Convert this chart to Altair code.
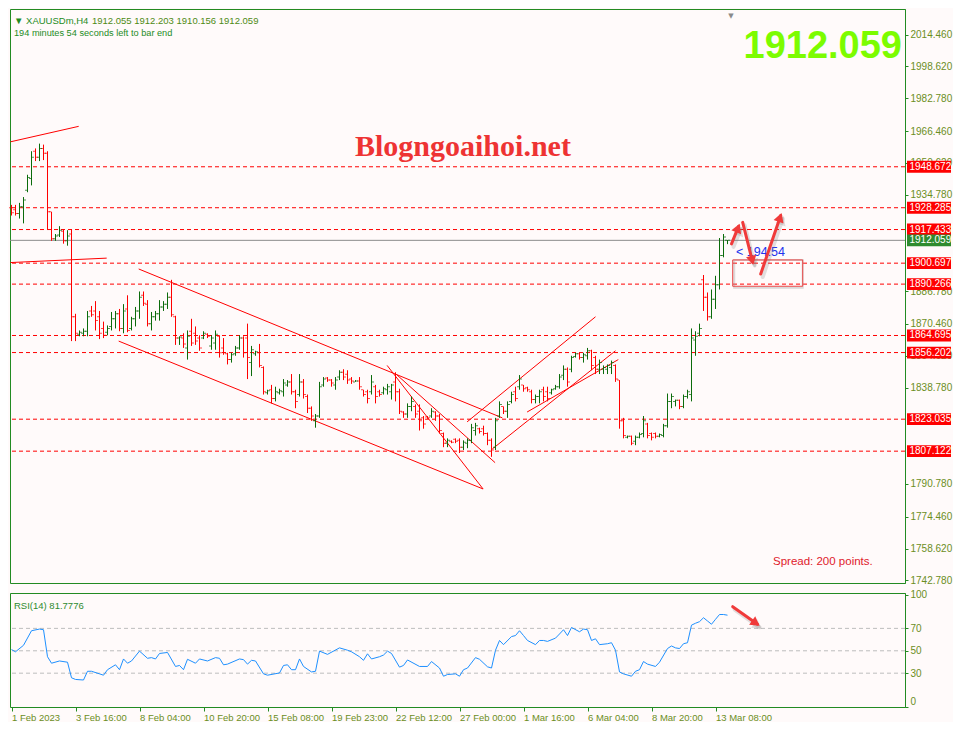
import json, math
import numpy as np
import pandas as pd
import altair as alt

# ---------------- data ----------------
opens = [1928.3, 1927.3, 1925.4, 1928.8, 1937.0, 1942.8, 1956.4, 1953.4, 1957.8, 1955.4,
         1926.3, 1912.8, 1914.7, 1916.6, 1911.8, 1915.2, 1874.0, 1865.3, 1865.8, 1866.8,
         1876.9, 1876.9, 1874.0, 1868.2, 1866.3, 1869.2, 1873.0, 1875.5, 1868.2, 1877.9,
         1868.2, 1873.0, 1876.9, 1884.7, 1880.3, 1870.6, 1874.0, 1875.5, 1878.9, 1880.3,
         1883.7, 1874.0, 1863.4, 1863.4, 1858.5, 1866.8, 1865.8, 1863.4, 1863.4, 1865.3,
         1859.5, 1861.0, 1864.3, 1858.5, 1855.6, 1852.7, 1855.6, 1858.5, 1863.4, 1863.4,
         1851.2, 1855.6, 1856.1, 1848.8, 1836.2, 1837.7, 1833.3, 1836.2, 1836.7, 1840.1,
         1841.6, 1836.7, 1835.3, 1841.6, 1834.3, 1828.5, 1822.2, 1824.6, 1840.1, 1843.5,
         1842.5, 1840.1, 1844.0, 1846.4, 1845.4, 1843.0, 1841.6, 1842.0, 1837.7, 1836.7,
         1836.7, 1839.2, 1836.7, 1836.2, 1837.7, 1836.7, 1841.6, 1836.7, 1826.6, 1825.6,
         1829.4, 1829.4, 1827.0, 1823.7, 1824.1, 1824.6, 1826.6, 1824.6, 1815.9, 1811.1,
         1812.0, 1813.0, 1812.5, 1809.1, 1811.1, 1812.5, 1817.4, 1818.3, 1818.3, 1815.9,
         1812.5, 1809.1, 1824.6, 1829.4, 1827.0, 1831.9, 1836.7, 1839.2, 1840.1, 1838.7,
         1836.7, 1832.8, 1834.3, 1837.7, 1836.7, 1836.2, 1838.2, 1839.2, 1844.9, 1847.9,
         1847.9, 1854.2, 1855.6, 1853.7, 1854.6, 1857.1, 1853.7, 1847.9, 1847.9, 1847.9,
         1848.8, 1849.8, 1842.5, 1822.2, 1814.0, 1814.5, 1812.0, 1814.0, 1815.9, 1820.7,
         1815.9, 1815.9, 1814.5, 1814.9, 1819.8, 1831.9, 1831.9, 1832.4, 1829.4, 1834.3,
         1835.3, 1862.4, 1865.8, 1892.4, 1883.7, 1874.0, 1882.7, 1890.0, 1904.5, 1912.055]
highs = [1929.7, 1929.7, 1930.7, 1933.6, 1944.7, 1956.4, 1957.8, 1960.2, 1959.7, 1956.4,
         1926.3, 1915.2, 1919.1, 1917.6, 1917.1, 1917.6, 1875.5, 1867.2, 1868.2, 1876.9,
         1879.4, 1881.8, 1876.9, 1871.6, 1869.7, 1876.4, 1876.9, 1877.9, 1880.3, 1884.7,
         1874.0, 1878.9, 1886.6, 1886.6, 1882.3, 1876.4, 1876.9, 1882.3, 1881.8, 1886.1,
         1892.4, 1874.5, 1864.3, 1865.8, 1867.2, 1873.0, 1869.2, 1864.8, 1866.8, 1865.8,
         1864.8, 1867.2, 1864.8, 1863.4, 1856.1, 1856.1, 1859.5, 1864.8, 1864.3, 1870.6,
         1859.5, 1857.1, 1860.5, 1849.3, 1837.7, 1840.1, 1839.2, 1838.2, 1843.0, 1842.5,
         1845.5, 1837.7, 1845.5, 1843.0, 1835.3, 1829.4, 1825.6, 1841.6, 1844.0, 1844.0,
         1843.0, 1844.0, 1847.4, 1847.9, 1847.4, 1844.0, 1842.5, 1844.0, 1837.7, 1837.7,
         1845.0, 1840.1, 1837.7, 1839.2, 1840.6, 1840.6, 1846.4, 1838.2, 1827.0, 1830.9,
         1834.3, 1830.4, 1830.4, 1824.6, 1824.6, 1828.5, 1827.0, 1825.6, 1816.4, 1813.5,
         1812.5, 1813.5, 1813.5, 1812.5, 1813.5, 1820.7, 1821.2, 1818.8, 1819.8, 1816.4,
         1813.5, 1823.7, 1831.9, 1829.4, 1831.9, 1836.7, 1839.2, 1845.0, 1840.1, 1839.2,
         1837.7, 1835.3, 1837.7, 1839.2, 1839.2, 1838.2, 1840.1, 1845.5, 1849.8, 1848.8,
         1854.6, 1856.1, 1856.1, 1856.1, 1858.5, 1857.6, 1854.6, 1852.7, 1849.8, 1850.3,
         1852.2, 1850.3, 1842.5, 1823.7, 1814.9, 1814.9, 1814.9, 1816.4, 1824.6, 1821.2,
         1816.4, 1816.4, 1815.9, 1820.7, 1835.8, 1835.8, 1832.8, 1832.8, 1835.3, 1837.7,
         1868.2, 1866.8, 1870.6, 1894.8, 1886.1, 1887.6, 1894.4, 1913.2, 1915.2, 1912.203]
lows = [1924.4, 1924.4, 1922.9, 1920.5, 1936.0, 1939.4, 1951.5, 1951.5, 1952.0, 1917.6,
        1911.8, 1911.8, 1913.7, 1910.4, 1909.4, 1861.9, 1861.9, 1864.3, 1864.3, 1864.3,
        1874.0, 1867.2, 1862.9, 1863.4, 1864.8, 1867.2, 1868.2, 1866.8, 1865.8, 1866.3,
        1867.2, 1869.2, 1873.0, 1879.4, 1869.2, 1867.2, 1872.1, 1872.1, 1876.9, 1877.9,
        1874.0, 1860.0, 1860.0, 1858.5, 1852.7, 1859.5, 1860.0, 1857.1, 1862.9, 1863.4,
        1857.6, 1857.6, 1853.7, 1855.1, 1850.3, 1851.2, 1854.6, 1857.6, 1853.7, 1843.0,
        1844.5, 1854.6, 1848.8, 1835.3, 1835.3, 1830.9, 1831.9, 1835.3, 1834.3, 1839.2,
        1835.3, 1828.5, 1834.3, 1833.3, 1826.1, 1822.2, 1818.8, 1823.7, 1839.2, 1841.6,
        1839.2, 1837.7, 1842.5, 1842.5, 1840.6, 1840.6, 1841.6, 1837.7, 1834.3, 1830.9,
        1835.3, 1830.9, 1834.3, 1835.3, 1835.3, 1832.8, 1831.9, 1825.6, 1823.7, 1823.7,
        1827.0, 1823.7, 1817.4, 1818.3, 1823.2, 1823.7, 1822.2, 1815.9, 1809.1, 1809.1,
        1811.1, 1811.1, 1806.2, 1807.7, 1808.6, 1811.1, 1814.9, 1815.9, 1814.9, 1810.1,
        1804.3, 1807.7, 1823.7, 1825.6, 1823.7, 1830.9, 1831.9, 1837.7, 1836.7, 1836.7,
        1830.9, 1830.9, 1830.9, 1831.9, 1831.9, 1835.3, 1837.7, 1838.2, 1842.5, 1839.2,
        1846.4, 1853.7, 1852.7, 1851.2, 1852.7, 1847.4, 1845.5, 1845.5, 1845.5, 1845.5,
        1845.5, 1841.6, 1818.3, 1813.5, 1813.5, 1810.1, 1810.1, 1813.5, 1814.0, 1813.5,
        1812.5, 1813.5, 1814.0, 1814.0, 1818.8, 1828.5, 1829.4, 1828.0, 1828.5, 1833.3,
        1831.9, 1854.6, 1864.3, 1876.9, 1872.1, 1873.0, 1877.9, 1887.6, 1903.6, 1910.156]
closes = [1925.8, 1925.4, 1928.8, 1932.1, 1943.3, 1953.4, 1953.4, 1957.8, 1955.4, 1926.3,
          1912.8, 1914.2, 1917.1, 1911.8, 1914.2, 1874.0, 1865.8, 1866.3, 1866.8, 1874.0,
          1875.0, 1872.1, 1865.8, 1864.8, 1868.2, 1873.0, 1875.5, 1868.2, 1876.9, 1867.2,
          1873.0, 1876.9, 1883.7, 1880.8, 1870.6, 1874.0, 1875.5, 1878.9, 1880.3, 1883.7,
          1875.0, 1863.4, 1864.0, 1860.5, 1864.3, 1861.0, 1861.9, 1858.5, 1865.8, 1864.3,
          1863.4, 1865.3, 1856.1, 1856.1, 1852.7, 1855.1, 1858.5, 1863.4, 1856.1, 1853.7,
          1857.6, 1856.6, 1849.8, 1836.7, 1837.2, 1833.3, 1836.7, 1837.2, 1841.1, 1841.6,
          1836.7, 1831.9, 1841.6, 1835.3, 1828.5, 1824.6, 1824.6, 1839.2, 1843.0, 1842.5,
          1841.1, 1842.5, 1846.4, 1844.0, 1842.5, 1842.0, 1842.0, 1839.2, 1835.3, 1833.3,
          1841.6, 1834.3, 1835.3, 1838.2, 1839.2, 1840.1, 1836.7, 1827.0, 1825.6, 1829.4,
          1831.9, 1825.6, 1822.2, 1820.7, 1823.7, 1827.0, 1824.6, 1817.4, 1811.1, 1812.5,
          1811.6, 1812.0, 1809.1, 1811.6, 1812.5, 1818.8, 1819.8, 1816.9, 1815.9, 1812.5,
          1807.7, 1822.2, 1830.4, 1827.0, 1830.4, 1835.3, 1833.3, 1843.0, 1838.2, 1837.7,
          1832.8, 1834.3, 1836.7, 1834.3, 1833.3, 1837.7, 1839.2, 1844.0, 1847.9, 1841.6,
          1853.7, 1855.6, 1853.7, 1855.1, 1857.1, 1849.8, 1847.9, 1851.2, 1848.8, 1849.8,
          1851.2, 1843.0, 1822.2, 1814.9, 1814.5, 1811.1, 1814.0, 1815.4, 1822.2, 1814.9,
          1814.0, 1814.5, 1815.4, 1819.8, 1831.9, 1834.3, 1832.4, 1829.4, 1834.3, 1836.7,
          1863.4, 1864.3, 1868.2, 1883.7, 1874.0, 1882.7, 1890.0, 1904.5, 1913.7, 1912.059]

rsi_i = [0, 1, 3, 5, 7, 8, 9, 10, 12, 14, 15, 16, 18, 19, 20, 22, 23, 24, 26, 27, 28, 29, 30, 32, 34,
         35, 36, 37, 39, 41, 42, 43, 44, 46, 47, 49, 51, 52, 53, 54, 57, 58, 59, 60, 61, 63, 64, 67,
         68, 69, 70, 71, 72, 73, 75, 76, 77, 79, 82, 84, 85, 87, 88, 89, 90, 92, 93, 94, 95, 97, 98,
         99, 102, 104, 105, 107, 108, 109, 111, 112, 113, 114, 116, 117, 119, 120, 121, 122, 123,
         125, 126, 127, 128, 129, 131, 132, 133, 134, 136, 137, 138, 139, 140, 142, 143, 144, 145,
         146, 147, 149, 150, 151, 152, 153, 155, 156, 157, 158, 159, 161, 162, 164, 165, 166, 167,
         168, 169, 170, 171, 172, 173, 174, 175, 176, 177, 178, 179]
rsi_v = [51.1, 49.1, 54.9, 67.9, 69.4, 68.8, 44.7, 38.9, 40.9, 39.8, 25.9, 24.4, 23.9, 31.7, 31.7,
         29.4, 28.2, 33.1, 37.5, 33.1, 42.7, 38.9, 40.9, 49.7, 43.3, 43.9, 42.7, 47.6, 48.5, 36.0,
         36.9, 33.1, 42.4, 38.9, 42.7, 40.9, 43.9, 43.3, 37.5, 38.1, 42.7, 42.1, 38.1, 41.5, 40.9,
         29.4, 28.2, 30.2, 36.9, 37.5, 33.1, 33.1, 42.7, 36.0, 31.1, 31.7, 49.7, 46.8, 52.6, 50.5,
         49.1, 44.7, 41.5, 47.3, 42.7, 44.7, 46.2, 49.7, 47.6, 35.4, 36.9, 41.8, 36.0, 36.0, 40.4,
         34.6, 27.3, 28.8, 29.4, 27.3, 33.1, 34.6, 43.9, 42.4, 35.7, 34.6, 50.5, 59.2, 55.5, 62.7,
         63.6, 67.9, 63.6, 59.2, 55.5, 59.2, 59.2, 58.4, 61.3, 65.0, 68.8, 63.6, 70.8, 67.0, 69.4,
         68.8, 59.2, 60.7, 55.5, 56.3, 57.2, 50.5, 31.1, 29.4, 27.3, 31.7, 33.1, 40.4, 38.1, 36.0,
         39.8, 52.0, 54.3, 52.6, 52.0, 56.3, 57.2, 72.9, 74.6, 76.0, 79.5, 76.6, 73.7, 78.1, 82.4,
         82.4, 81.8]

levels = [1948.672, 1928.285, 1917.433, 1900.697, 1890.266, 1864.695, 1856.202, 1823.035, 1807.122]
current_price = 1912.059

price_ticks = [2014.46, 1998.62, 1982.78, 1966.46, 1950.62, 1934.78, 1886.78,
               1870.46, 1854.62, 1838.78, 1790.78, 1774.46, 1758.62, 1742.78]
time_ticks = [0, 16, 32, 48, 64, 80, 96, 112, 128, 144, 160, 176]
time_labels = ["1 Feb 2023", "3 Feb 16:00", "8 Feb 04:00", "10 Feb 20:00", "15 Feb 08:00",
               "19 Feb 23:00", "22 Feb 12:00", "27 Feb 00:00", "1 Mar 16:00", "6 Mar 04:00",
               "8 Mar 20:00", "13 Mar 08:00"]
rsi_ticks = [0, 30, 50, 70, 100]
rsi_levels = [30, 50, 70]

# trend lines (bar index, price)
tl_x0 = [-0.25, -0.25, 31.8, 26.8, 93.9, 95.9, 113.9, 120.2, 128.9]
tl_p0 = [1961.1, 1901.0, 1897.8, 1861.9, 1849.8, 1845.9, 1821.7, 1808.2, 1826.6]
tl_x1 = [16.8, 23.8, 122.7, 117.9, 117.9, 120.9, 146.0, 151.0, 151.7]
tl_p1 = [1968.8, 1903.2, 1823.7, 1788.3, 1788.3, 1801.4, 1874.0, 1857.1, 1852.7]

# hand-drawn arrows (bar index, price)
ar_x0 = [180.0, 182.8, 187.3]
ar_p0 = [1910.3, 1921.0, 1895.3]
ar_x1 = [181.8, 185.3, 192.3]
ar_p1 = [1919.1, 1901.1, 1924.4]
rsi_ar = [180.3, 89.4, 186.5, 73.7]
box = [180.3, 197.8, 1889.2, 1902.3]

# ---------------- style ----------------
W, HM, HR = 895, 574, 114
XDOM = [-0.375, -0.375 + W / 4.0]          # 4 px per bar
YDOM = [1741.5, 2027.2]
RDOM = [-0.2, 101.6]
UP = "#0B6B0B"; DOWN = "#FF0000"; RED = "#FF0000"; FRAME = "#228B22"
OLIVE = "#6B8E23"; BG = "#FFFAFA"; ARROW = "#F03A3A"; FONT = "Liberation Sans"

pxX = W / (XDOM[1] - XDOM[0])
pxY = HM / (YDOM[1] - YDOM[0])
pxR = HR / (RDOM[1] - RDOM[0])

xs = alt.Scale(domain=XDOM, nice=False, zero=False)
ys = alt.Scale(domain=YDOM, nice=False, zero=False)
rs = alt.Scale(domain=RDOM, nice=False, zero=False)

yaxis = alt.Axis(orient="right", values=price_ticks, format=".3f", title=None, grid=False,
                 labelColor=OLIVE, labelFont=FONT, labelFontSize=10, tickColor=FRAME, tickSize=3,
                 domainColor=FRAME, labelPadding=2, labelOverlap=False, labelFlush=False, labelBound=False)
xaxis = alt.Axis(values=time_ticks,
                 labelExpr=f"{json.dumps(time_labels)}[indexof({json.dumps(time_ticks)}, datum.value)]",
                 labelAlign="left", tickSize=4, tickColor=FRAME, domain=False, labelColor=OLIVE,
                 labelFont=FONT, labelFontSize=9.5, labelPadding=1, grid=False, title=None,
                 labelOverlap=False, labelFlush=False, labelBound=False)
raxis = alt.Axis(orient="right", values=rsi_ticks, title=None, grid=False, labelColor=OLIVE, labelFont=FONT,
                 labelFontSize=10, tickSize=3, tickColor=FRAME, domainColor=FRAME, labelPadding=2,
                 labelFlush=True, format="d", labelOverlap=False)

XM = lambda f: alt.X(f, scale=xs, axis=None)
YM = lambda f: alt.Y(f, scale=ys, axis=yaxis)
XR = lambda f: alt.X(f, scale=xs, axis=xaxis)
YR = lambda f: alt.Y(f, scale=rs, axis=raxis)

bars = pd.DataFrame({"i": list(range(len(closes))), "o": opens, "h": highs, "l": lows, "c": closes})
bars["dir"] = np.where(bars["c"] >= bars["o"], "up", "down")
col = alt.Color("dir:N", scale=alt.Scale(domain=["up", "down"], range=[UP, DOWN]), legend=None)


def txt(t, x, y, **kw):
    return alt.Chart(pd.DataFrame({"t": [t]})).mark_text(**kw).encode(
        x=alt.value(x), y=alt.value(y), text="t:N")


def arrow_layers(x0s, y0s, x1s, y1s, XF, YF, pyu):
    rows, heads = [], []
    for k in range(len(x0s)):
        rows.append({"id": k, "i": x0s[k], "p": y0s[k]})
        rows.append({"id": k, "i": x1s[k], "p": y1s[k]})
        dx = (x1s[k] - x0s[k]) * pxX
        dy = (y1s[k] - y0s[k]) * pyu
        ang = math.degrees(math.atan2(dx, dy)) % 360
        L = math.hypot(dx, dy)
        back = 3.5
        heads.append({"i": x1s[k] - back * dx / L / pxX, "p": y1s[k] - back * dy / L / pyu, "ang": ang})
    rdf, hdf = pd.DataFrame(rows), pd.DataFrame(heads)
    return [
        alt.Chart(rdf).mark_line(color="#777777", strokeWidth=4, opacity=0.22, xOffset=2, yOffset=3,
                                 strokeCap="round").encode(x=XF("i:Q"), y=YF("p:Q"), detail="id:N"),
        alt.Chart(hdf).mark_point(shape="triangle", filled=True, size=110, color="#777777", opacity=0.22,
                                  xOffset=2, yOffset=3).encode(x=XF("i:Q"), y=YF("p:Q"),
                                                                angle=alt.Angle("ang:Q", scale=None)),
        alt.Chart(rdf).mark_line(color=ARROW, strokeWidth=3, strokeCap="round").encode(
            x=XF("i:Q"), y=YF("p:Q"), detail="id:N"),
        alt.Chart(hdf).mark_point(shape="triangle", filled=True, size=110, color=ARROW, opacity=1).encode(
            x=XF("i:Q"), y=YF("p:Q"), angle=alt.Angle("ang:Q", scale=None)),
    ]


layers = []
layers.append(alt.Chart(pd.DataFrame({"p": levels})).mark_rule(color=RED, strokeDash=[4, 3], strokeWidth=1).encode(
    y=YM("p:Q")))
layers.append(alt.Chart(pd.DataFrame({"p": [current_price]})).mark_rule(color="#8C8C8C", strokeWidth=1).encode(
    y=YM("p:Q")))

tl_rows = []
for k in range(len(tl_x0)):
    tl_rows.append({"id": k, "i": tl_x0[k], "p": tl_p0[k]})
    tl_rows.append({"id": k, "i": tl_x1[k], "p": tl_p1[k]})
layers.append(alt.Chart(pd.DataFrame(tl_rows)).mark_line(color=RED, strokeWidth=1).encode(
    x=XM("i:Q"), y=YM("p:Q"), detail="id:N"))

bx = pd.DataFrame({"a": [box[0]], "b": [box[1]], "p0": [box[2]], "p1": [box[3]]})
layers.append(alt.Chart(bx).mark_rect(fillOpacity=0, stroke="#999999", strokeOpacity=0.35, strokeWidth=2,
                                      xOffset=1.5, yOffset=1.5).encode(
    x=XM("a:Q"), x2="b:Q", y=YM("p0:Q"), y2="p1:Q"))
layers.append(alt.Chart(bx).mark_rect(fillOpacity=0, stroke="#E84545", strokeWidth=1).encode(
    x=XM("a:Q"), x2="b:Q", y=YM("p0:Q"), y2="p1:Q"))

bb = alt.Chart(bars)
layers.append(bb.mark_rule(strokeWidth=1).encode(x=XM("i:Q"), y=YM("l:Q"), y2="h:Q", color=col))
layers.append(bb.mark_tick(orient="horizontal", size=2, thickness=1, xOffset=-1.5).encode(
    x=XM("i:Q"), y=YM("o:Q"), color=col))
layers.append(bb.mark_tick(orient="horizontal", size=2, thickness=1, xOffset=1.5).encode(
    x=XM("i:Q"), y=YM("c:Q"), color=col))

layers.append(txt("< 194:54", 726, 242.5, align="left", font=FONT, fontSize=12.5, color="#2233EE"))
layers += arrow_layers(ar_x0, ar_p0, ar_x1, ar_p1, XM, YM, pxY)

lvb = pd.DataFrame({"p": levels})
lvb["lo"] = lvb["p"] - 2.95
lvb["hi"] = lvb["p"] + 2.95
cub = pd.DataFrame({"p": [current_price]})
cub["lo"] = cub["p"] - 2.95
cub["hi"] = cub["p"] + 2.95
for d, fillc in ((lvb, RED), (cub, "#2E8B2E")):
    layers.append(alt.Chart(d).mark_rect(color=fillc).encode(
        x=alt.value(W + 2), x2=alt.value(W + 46), y=YM("lo:Q"), y2="hi:Q"))
    layers.append(alt.Chart(d).mark_text(align="left", baseline="middle", color="white", font=FONT,
                                         fontSize=10).encode(
        x=alt.value(W + 4.5), y=YM("p:Q"), text=alt.Text("p:Q", format=".3f")))

layers.append(txt("▼ XAUUSDm,H4", 4, 11.7, align="left", font=FONT, fontSize=9.5, color="#1E8C1E"))
layers.append(txt("1912.055 1912.203 1910.156 1912.059", 82, 11.7, align="left", font=FONT, fontSize=9.5,
                  color="#4E8A14"))
layers.append(txt("194 minutes 54 seconds left to bar end", 4, 24.4, align="left", font=FONT, fontSize=9.2,
                  color="#1E8C1E"))
layers.append(txt("1912.059", 892, 38, align="right", font=FONT, fontSize=38, fontWeight="bold", color="#7CFC00"))
layers.append(txt("Blogngoaihoi.net", 345, 137.5, align="left", font="Liberation Serif", fontSize=30,
                  fontWeight="bold", color="#EE3333"))
layers.append(txt("Spread: 200 points.", 763, 552.5, align="left", font=FONT, fontSize=11.5, color="#E0202A"))
layers.append(txt("▼", 721, 7, align="center", font="DejaVu Sans", fontSize=7, color="#8A8A8A"))

main = alt.layer(*layers).properties(width=W, height=HM)

# ---------------- RSI panel ----------------
rdf = pd.DataFrame({"i": rsi_i, "v": rsi_v})
rl = [
    alt.Chart(pd.DataFrame({"v": rsi_levels})).mark_rule(color="#BDBDBD", strokeDash=[4, 3], strokeWidth=1).encode(
        y=YR("v:Q")),
    alt.Chart(rdf).mark_line(color="#1E90FF", strokeWidth=1).encode(x=XR("i:Q"), y=YR("v:Q")),
]
rl += arrow_layers([rsi_ar[0]], [rsi_ar[1]], [rsi_ar[2]], [rsi_ar[3]], XR, YR, pxR)
rl.append(txt("RSI(14) 81.7776", 4, 12.5, align="left", font=FONT, fontSize=9.5, color="#2E8B2E"))
rsi = alt.layer(*rl).properties(width=W, height=HR)

chart = alt.vconcat(main, rsi, spacing=3).properties(
    padding={"left": 0, "top": 0, "right": 0, "bottom": 0}, background=BG
).configure_view(stroke=FRAME, strokeWidth=1, fill=BG)

chart.save("out.html", embed_options={"renderer": "svg", "actions": False})
